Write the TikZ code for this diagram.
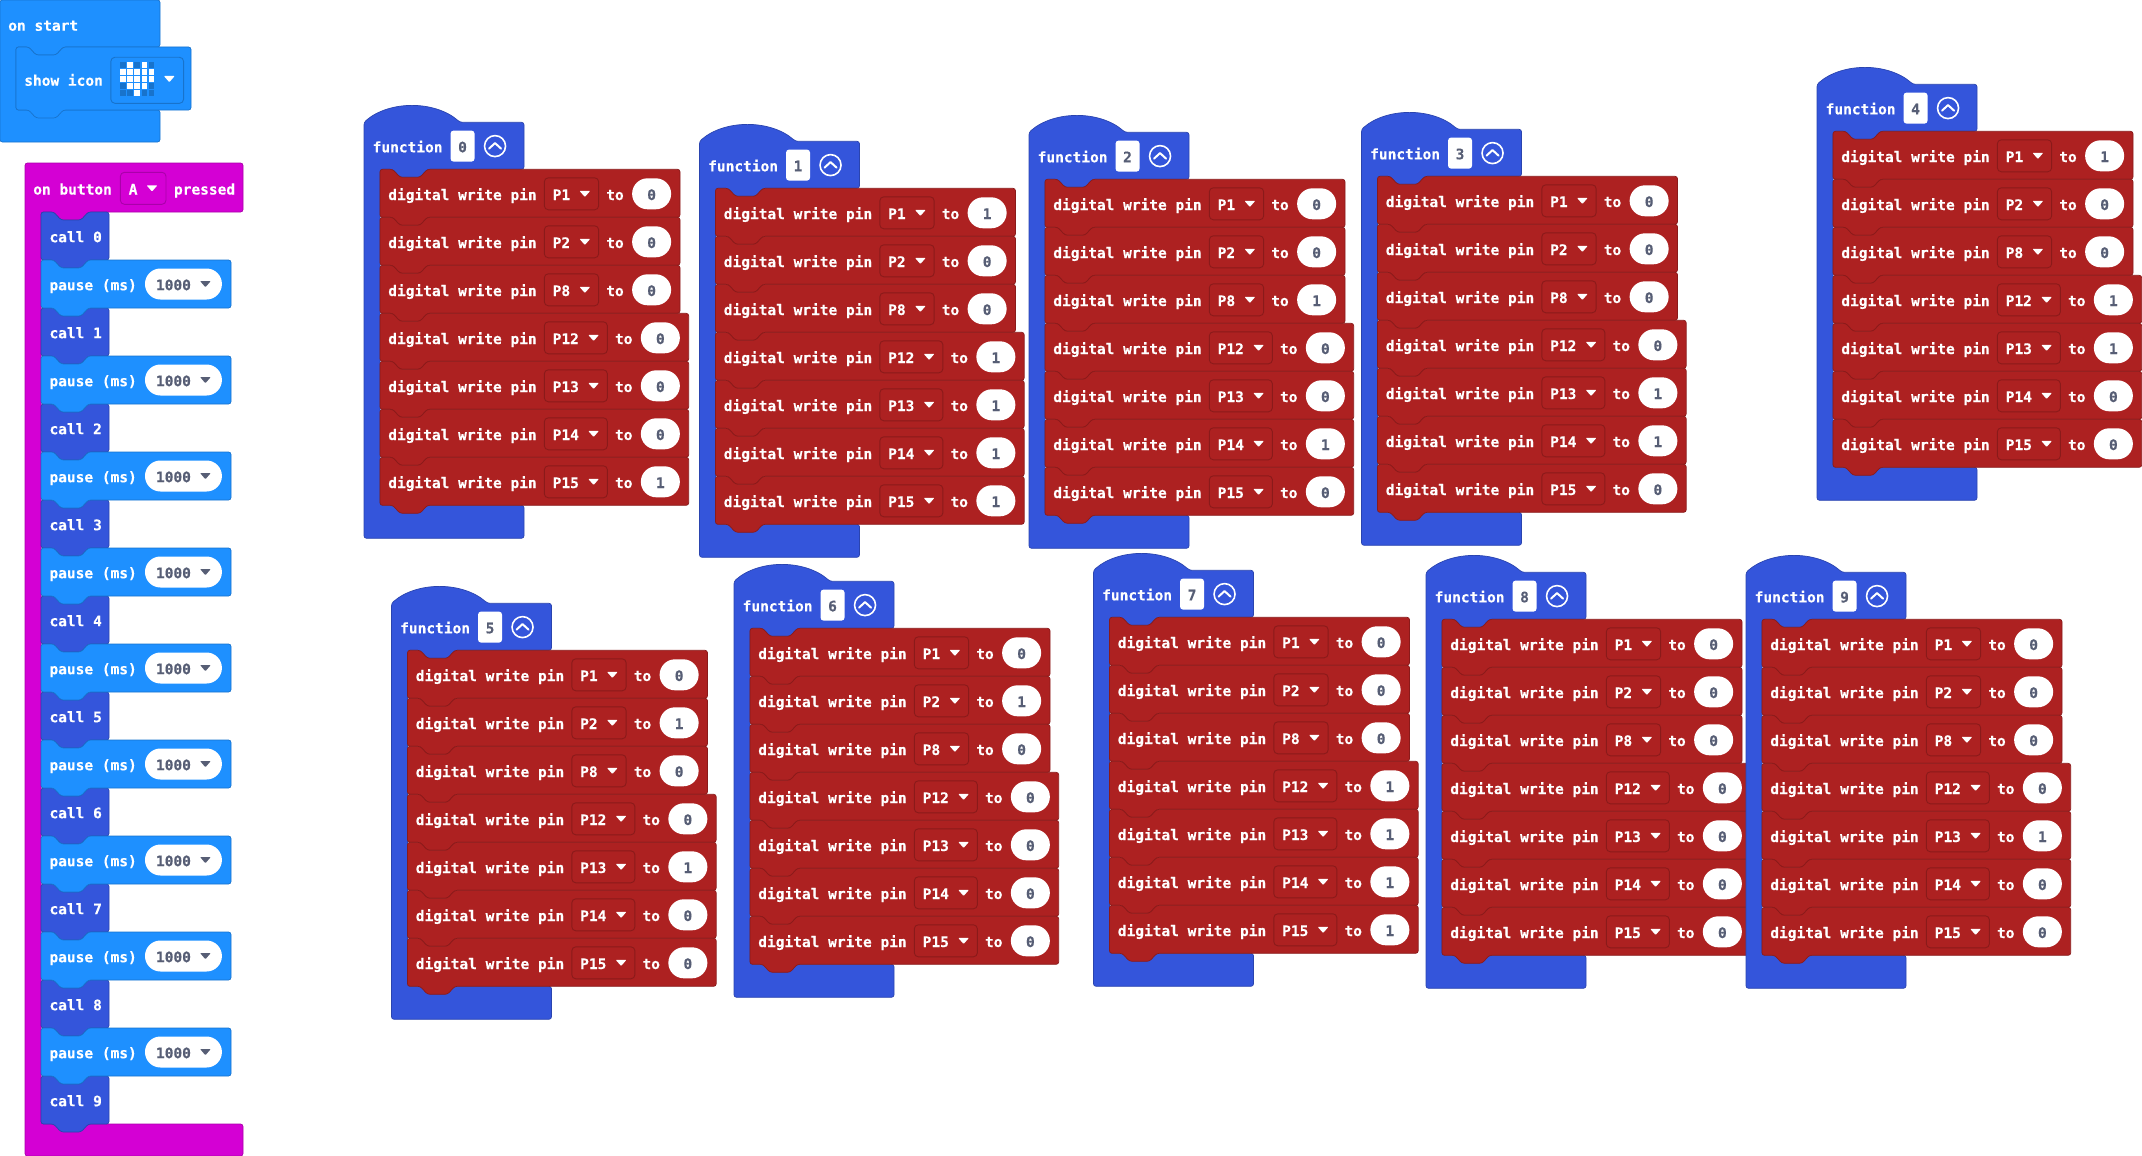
\documentclass[tikz,border=0pt]{standalone}
\usepackage{fontspec}
\usepackage{xcolor}
\usepackage{tikz}
\usetikzlibrary{positioning}
\newfontfamily\blockfont{DejaVu Sans Mono}[BoldFeatures={FakeBold=0.25}]
\definecolor{pinred}{HTML}{AD2121}
\definecolor{pinedge}{HTML}{8A1A1A}
\definecolor{fnblue}{HTML}{3455DB}
\definecolor{fnedge}{HTML}{2A44AF}
\definecolor{basicblue}{HTML}{1E90FF}
\definecolor{basicedge}{HTML}{1873CC}
\definecolor{inputpink}{HTML}{D400D4}
\definecolor{inputedge}{HTML}{AA00AA}
\definecolor{fieldtext}{HTML}{575E75}
% style, x, y, width, height
\newcommand{\stackblock}[5]{\draw[#1,shift={(#2,#3)}] (0,0) -- (12.7,0) -- (20,8) -- (40,8)
  -- (47.3,0) -- (#4,0) -- (#4,#5) -- (47.3,#5) -- (40,#5+8) -- (20,#5+8) -- (12.7,#5)
  -- (0,#5) -- cycle;}
% style, x, y of the mouth, width, header height, mouth height, foot height, hat
\newcommand{\openblock}[8]{\draw[#1,shift={(#2,#3)}] (0,-#5) #8 -- (#4,-#5) -- (#4,0)
  -- (63.3,0) -- (56,8) -- (36,8) -- (28.7,0) -- (16,0) -- (16,#6) -- (#4,#6)
  -- (#4,#6+#7) -- (0,#6+#7) -- cycle;}
\begin{document}
\begin{tikzpicture}[x=1pt,y=-1pt,
  block/.style={rounded corners=2.5pt,line width=.7pt},
  pinblock/.style={block,fill=pinred,draw=pinedge},
  fnblock/.style={block,fill=fnblue,draw=fnedge},
  basicblock/.style={block,fill=basicblue,draw=basicedge},
  inputblock/.style={block,fill=inputpink,draw=inputedge},
  blocktext/.style={inner sep=0pt,outer sep=0pt,text=white,text height=12.4pt,text depth=0pt,
    font=\blockfont\bfseries\fontsize{14.5}{17}\selectfont},
  fieldpad/.style 2 args={execute at begin node=\hspace{#1},execute at end node=\hspace{#2}},
  pinfield/.style={blocktext,draw=pinedge,line width=.9pt,rounded corners=4pt,minimum height=32pt,
    fieldpad={8.4pt}{28.5pt}},
  valuefield/.style={blocktext,fill=white,text=fieldtext,rounded corners=15.4pt,
    minimum width=39pt,minimum height=31pt},
  numberbox/.style={blocktext,fill=white,text=fieldtext,rounded corners=3pt,
    minimum width=24pt,minimum height=31pt},
  collapse/.style={circle,draw=white,line width=1.6pt,inner sep=0pt,outer sep=0pt,minimum size=21pt},
  pics/dropdown/.style={code={\fill[#1,rounded corners=.8pt] (-5.4,-3) -- (5.4,-3) -- (0,3.2) -- cycle;}},
  pics/chevron/.style={code={\draw[white,line width=2pt,line cap=round,line join=round]
    (-6,2.5) -- (0,-3) -- (6,2.5);}}]
\useasboundingbox (0,0) rectangle (2142,1156);

% on start
\openblock{basicblock}{0}{47}{160}{47}{63}{32}{}
\node[blocktext,anchor=west] (onstart) at (8.3,24.5) {on start};
\stackblock{basicblock}{16}{47}{175}{63}
\node[blocktext,anchor=west] (showicon) at (24.3,79.5) {show icon};
\node[draw=basicedge,line width=.9pt,rounded corners=4pt,minimum width=72.7pt,minimum height=46pt,
  inner sep=0pt,outer sep=0pt,right=8pt of showicon.east,yshift=-.8pt] (iconfield) {};
\pic at (169.3,79) {dropdown=white};
\foreach \c in {0,...,4} \foreach \r in {0,...,4}
  \fill[basicedge] (120+7.2*\c,62+7.1*\r) rectangle ++(5.6,5.6);
\foreach \c/\r in {1/0,3/0,0/1,1/1,2/1,3/1,4/1,0/2,1/2,2/2,3/2,4/2,1/3,2/3,3/3,2/4}
  \fill[white] (120+7.2*\c,62+7.1*\r) rectangle ++(5.6,5.6);

% on button A pressed
\openblock{inputblock}{25}{212}{218}{49}{912}{32}{}
\node[blocktext,anchor=west] (onbutton) at (33.3,188.3) {on button};
\node[pinfield,draw=inputedge,right=8.5pt of onbutton] (buttonfield) {A};
\pic at ([xshift=-14pt]buttonfield.east) {dropdown=white};
\node[blocktext,right=8pt of buttonfield] (pressed) {pressed};
\foreach \k in {0,...,9}{
  \begin{scope}[shift={(41,212+96*\k)}]
  \stackblock{fnblock}{0}{0}{68}{48}
  \node[blocktext,anchor=west] (call\k) at (8.5,24) {call \k};
  \end{scope}
}
\foreach \k in {0,...,8}{
  \begin{scope}[shift={(41,260+96*\k)}]
  \stackblock{basicblock}{0}{0}{190}{48}
  \node[blocktext,anchor=west] (pause\k) at (8.5,24) {pause (ms)};
  \node[valuefield,fieldpad={11pt}{31pt},right=8.2pt of pause\k] (delay\k) {1000};
  \pic at ([xshift=-16.5pt]delay\k.east) {dropdown=fieldtext};
  \end{scope}
}

% the functions
\foreach \fn/\fx/\fy/\fvals in {0/364/169.3/{0,0,0,0,0,0,1},1/699.5/188.3/{1,0,0,1,1,1,1},
  2/1029/179.3/{0,0,1,0,0,1,0},3/1361.5/176.3/{0,0,0,0,1,1,0},4/1817/131.3/{1,0,0,1,1,0,0},
  5/391.5/650.3/{0,1,0,0,1,0,0},6/734/628.3/{0,1,0,0,0,0,0},7/1093.5/617.3/{0,0,0,1,1,1,1},
  8/1426/619.3/{0,0,0,0,0,0,0},9/1746/619.3/{0,0,0,0,1,0,0}}{
  \openblock{fnblock}{\fx}{\fy}{160}{47}{336}{33}{.. controls (25,-69) and (71,-69) .. (96,-47)}
  \begin{scope}[shift={(\fx,\fy)}]
  \node[blocktext,anchor=west] (fname\fn) at (8.7,-23.2) {function};
  \node[numberbox,right=8pt of fname\fn] (fnum\fn) {\fn};
  \node[collapse,right=10pt of fnum\fn] (fup\fn) {};
  \pic at (fup\fn) {chevron};
  \end{scope}
  \foreach \val [count=\row from 0] in \fvals {
    \pgfmathsetmacro\pin{{"P1","P2","P8","P12","P13","P14","P15"}[\row]}
    \pgfmathsetmacro\bw{\row<3?300:308.7}
    \begin{scope}[shift={(\fx+16,\fy+48*\row)}]
    \stackblock{pinblock}{0}{0}{\bw}{48}
    \node[blocktext,anchor=west] (write\fn\row) at (8.3,24.5) {digital write pin};
    \node[pinfield,right=7.6pt of write\fn\row] (pin\fn\row) {\pin};
    \pic at ([xshift=-13.8pt]pin\fn\row.east) {dropdown=white};
    \node[blocktext,right=7.6pt of pin\fn\row] (to\fn\row) {to};
    \node[valuefield,right=8.4pt of to\fn\row] (val\fn\row) {\val};
    \end{scope}
  }
}
\end{tikzpicture}
\end{document}
